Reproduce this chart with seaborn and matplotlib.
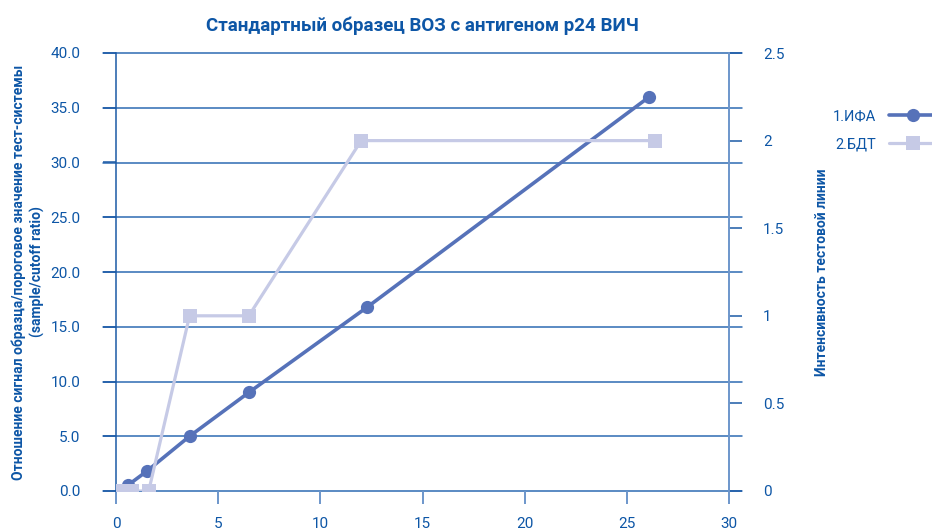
import seaborn as sns
import matplotlib.pyplot as plt
import matplotlib.ticker as mticker

# data
ifa_x = [0.6, 1.5, 3.6, 6.5, 12.3, 26.1]
ifa_y = [0.55, 1.8, 5.0, 9.0, 16.8, 36.0]

bdt_x = [0.3, 0.8, 1.6, 3.6, 6.5, 12.0, 26.4]
bdt_y = [0, 0, 0, 1, 1, 2, 2]

left_ticks = [0, 5, 10, 15, 20, 25, 30, 35, 40]
right_ticks = [0, 0.5, 1, 1.5, 2, 2.5]
x_ticks = [0, 5, 10, 15, 20, 25, 30]

sns.set_style('white')
plt.rcParams['font.family'] = ['Roboto', 'DejaVu Sans']

text_c = '#0d56a6'
grid_c = '#2e6bb3'
ifa_c = '#5672b9'
bdt_c = '#c6cae6'

fig = plt.figure(figsize=(9.32, 5.32), dpi=100)
ax = fig.add_axes([116 / 932, 1 - 491 / 532, (729 - 116) / 932, (491 - 53) / 532])
ax2 = ax.twinx()

sns.lineplot(x=ifa_x, y=ifa_y, ax=ax, color=ifa_c, linewidth=2.6,
             marker='o', markersize=9.5, markeredgewidth=0, label='1.ИФА',
             sort=False, legend=False)
sns.lineplot(x=bdt_x, y=bdt_y, ax=ax2, color=bdt_c, linewidth=2.3,
             marker='s', markersize=9.5, markeredgewidth=0, label='2.БДТ',
             sort=False, legend=False)

ax.set_xlim(0, 30)
ax.set_ylim(0, 40)
ax2.set_ylim(0, 2.5)
ax.set_xticks(x_ticks)
ax.set_yticks(left_ticks)
ax2.set_yticks(right_ticks)
ax.yaxis.set_major_formatter(mticker.FormatStrFormatter('%.1f'))
ax2.yaxis.set_major_formatter(mticker.FuncFormatter(lambda v, p: f'{v:g}'))

# horizontal gridlines, extended over the tick marks
for t in left_ticks:
    ax.plot([-0.022, 1.022], [t / 40, t / 40], transform=ax.transAxes,
            color=grid_c, linewidth=1.1, clip_on=False, zorder=0.5)

for s in ['top', 'bottom']:
    ax.spines[s].set_visible(False)
    ax2.spines[s].set_visible(False)
ax.spines['right'].set_visible(False)
ax2.spines['left'].set_visible(False)
ax.spines['left'].set_color('#1b5aa6')
ax.spines['left'].set_linewidth(1.1)
ax2.spines['right'].set_color('#6d96cb')
ax2.spines['right'].set_linewidth(1.4)

ax.tick_params(axis='y', direction='out', length=9.5, width=1.1, color='#1b5aa6',
               pad=16, labelsize=11, labelcolor=text_c)
ax.tick_params(axis='x', direction='out', length=9.5, width=1.4, color='#6d96cb',
               pad=9, labelsize=11, labelcolor=text_c, bottom=True)
ax2.tick_params(axis='y', direction='out', length=9.5, width=1.1, color='#1b5aa6',
                pad=15, labelsize=11, labelcolor=text_c, right=True)

ax.set_ylabel('Отношение сигнал образца/пороговое значение тест-системы\n(sample/cutoff ratio)',
              fontsize=10, fontweight='bold', color=text_c, labelpad=4, linespacing=1.3)
ax2.set_ylabel('Интенсивность тестовой линии', fontsize=10, fontweight='bold',
               color=text_c, labelpad=22)
ax.set_title('Стандартный образец ВОЗ с антигеном p24 ВИЧ', fontsize=13.5,
             fontweight='bold', color=text_c, pad=16)

h1, l1 = ax.get_legend_handles_labels()
h2, l2 = ax2.get_legend_handles_labels()
fig.legend(h1 + h2, l1 + l2, loc='upper left', bbox_to_anchor=(833 / 932, 1 - 109 / 532),
           frameon=False, markerfirst=False, handlelength=3.2, fontsize=10.5,
           labelcolor=text_c, labelspacing=1.0, borderaxespad=0, borderpad=0,
           handletextpad=0.9)

fig.savefig('out.png', dpi=100)
